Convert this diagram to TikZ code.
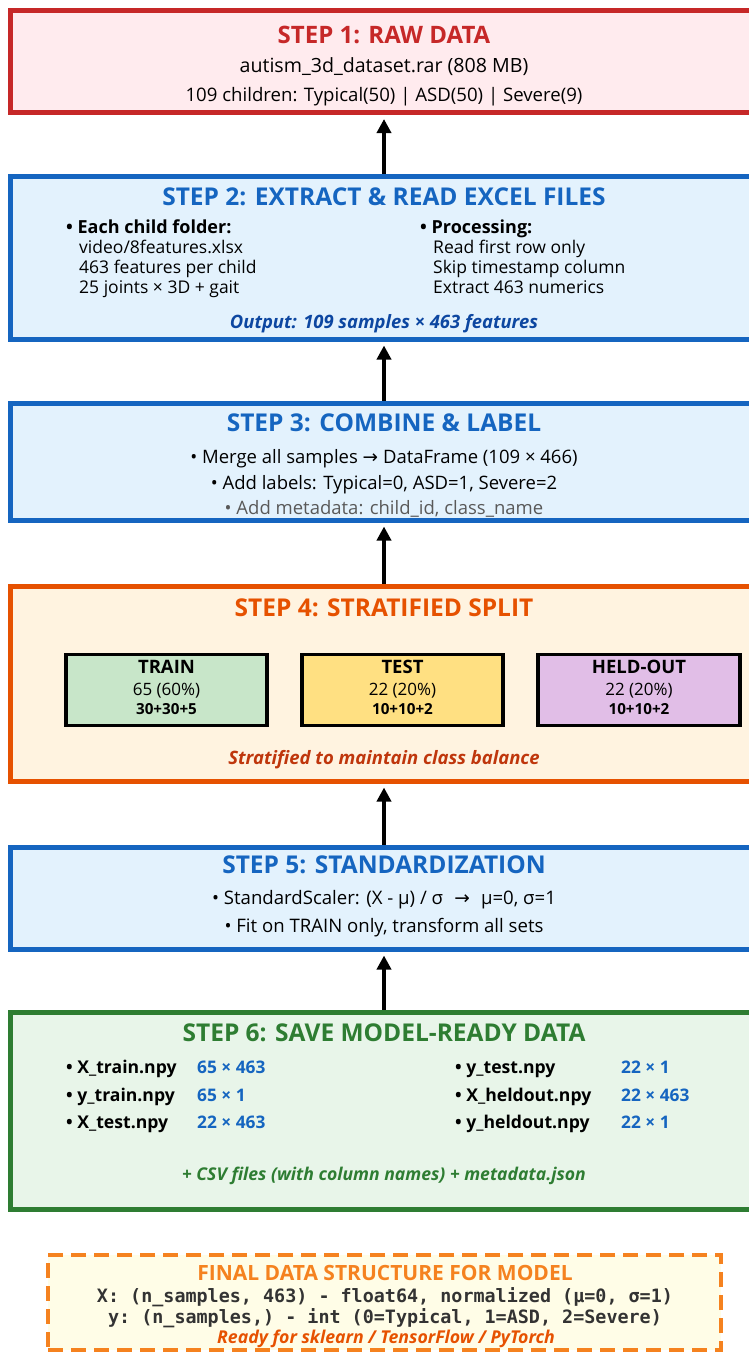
\documentclass[tikz,border=0pt]{standalone}
\usepackage{fontspec}
\setmainfont{Open Sans}
\setmonofont{DejaVu Sans Mono}
\newfontfamily\symfont{DejaVu Sans}
\usetikzlibrary{arrows.meta}
\definecolor{redln}{HTML}{C62828}
\definecolor{redbg}{HTML}{FFEBEE}
\definecolor{blueln}{HTML}{1565C0}
\definecolor{bluebg}{HTML}{E3F2FD}
\definecolor{bluedk}{HTML}{0D47A1}
\definecolor{orgln}{HTML}{E65100}
\definecolor{orgbg}{HTML}{FFF3E0}
\definecolor{orgdk}{HTML}{BF360C}
\definecolor{grnln}{HTML}{2E7D32}
\definecolor{grnbg}{HTML}{E8F5E9}
\definecolor{finln}{HTML}{F5821F}
\definecolor{finbg}{HTML}{FFFDE7}
\definecolor{trainbg}{HTML}{C8E6C9}
\definecolor{testbg}{HTML}{FFE082}
\definecolor{heldbg}{HTML}{E1BEE7}
\newcommand{\rarr}{{\symfont →}}

\begin{document}
\begin{tikzpicture}[x=1pt,y=-1pt,
  stage/.style={draw, line width=5pt, inner sep=0pt, minimum width=748pt},
  ttl/.style={font=\bfseries\fontsize{24.5}{28}\selectfont, anchor=base, inner sep=0pt},
  txt/.style={font=\fontsize{17.5}{20}\selectfont, anchor=base, inner sep=0pt},
  ltxt/.style={txt, anchor=base west},
  lbold/.style={ltxt, font=\bfseries\fontsize{17.6}{20}\selectfont},
  lval/.style={ltxt, text=blueln, font=\bfseries\fontsize{17.3}{20}\selectfont},
  split/.style={draw=black, line width=3.5pt, inner sep=0pt, minimum height=71pt},
  flow/.style={-{Triangle[length=14pt,width=14pt]}, line width=4pt, shorten >=4pt}
]
  \useasboundingbox (0,0) rectangle (749,1353);

% step 1: raw data
  \node[stage, draw=redln, fill=redbg, minimum height=102.5pt] (s1) at (384,61.25) {};
  \node[ttl, text=redln, font=\bfseries\fontsize{24}{28}\selectfont] (s1t) at (384,43) {STEP 1: RAW DATA};
  \node[txt, font=\fontsize{19.6}{20}\selectfont] (s1a) at (384,72) {autism\_3d\_dataset.rar (808 MB)};
  \node[txt, font=\fontsize{18.6}{20}\selectfont] (s1b) at (384,101) {109 children: Typical(50) | ASD(50) | Severe(9)};

% step 2: extract
  \node[stage, draw=blueln, fill=bluebg, minimum height=163pt] (s2) at (384,257.5) {};
  \node[ttl, text=blueln] (s2t) at (384,205) {STEP 2: EXTRACT \& READ EXCEL FILES};
  \node[lbold, font=\bfseries\fontsize{18}{20}\selectfont] (s2l) at (66,233) {• Each child folder:};
  \node[ltxt] (s2l1) at (79,253) {video/8features.xlsx};
  \node[ltxt] (s2l2) at (79,273) {463 features per child};
  \node[ltxt] (s2l3) at (79,293) {25 joints × 3D + gait};
  \node[lbold, font=\bfseries\fontsize{18}{20}\selectfont] (s2r) at (420,233) {• Processing:};
  \node[ltxt] (s2r1) at (433,253) {Read first row only};
  \node[ltxt] (s2r2) at (433,273) {Skip timestamp column};
  \node[ltxt] (s2r3) at (433,293) {Extract 463 numerics};
  \node[txt, text=bluedk, font=\bfseries\itshape\fontsize{18.4}{20}\selectfont] (s2o) at (384,328) {Output: 109 samples × 463 features};

% step 3: combine
  \node[stage, draw=blueln, fill=bluebg, minimum height=117pt] (s3) at (384,461.5) {};
  \node[ttl, text=blueln] (s3t) at (384,431) {STEP 3: COMBINE \& LABEL};
  \node[txt, font=\fontsize{18.5}{20}\selectfont] (s3a) at (384,463) {• Merge all samples \rarr{} DataFrame (109 × 466)};
  \node[txt, font=\fontsize{18.5}{20}\selectfont] (s3b) at (384,489) {• Add labels: Typical=0, ASD=1, Severe=2};
  \node[txt, text=black!65, font=\fontsize{18.5}{20}\selectfont] (s3c) at (384,514) {• Add metadata: child\_id, class\_name};

% step 4: split
  \node[stage, draw=orgln, fill=orgbg, minimum height=195pt] (s4) at (384,683.5) {};
  \node[ttl, text=orgln] (s4t) at (384,616) {STEP 4: STRATIFIED SPLIT};
  \node[split, fill=trainbg, minimum width=201pt] (train) at (166.5,690) {};
  \node[split, fill=testbg, minimum width=201pt] (test) at (402.5,690) {};
  \node[split, fill=heldbg, minimum width=202pt] (held) at (639,690) {};
  \node[txt, font=\bfseries\fontsize{18.5}{20}\selectfont] (traint) at (166.5,673) {TRAIN};
  \node[txt, font=\fontsize{17}{20}\selectfont] (trainn) at (166.5,695) {65 (60\%)};
  \node[txt, font=\bfseries\fontsize{15.2}{20}\selectfont] (trainc) at (166.5,714) {30+30+5};
  \node[txt, font=\bfseries\fontsize{18.5}{20}\selectfont] (testt) at (402.5,673) {TEST};
  \node[txt, font=\fontsize{17}{20}\selectfont] (testn) at (402.5,695) {22 (20\%)};
  \node[txt, font=\bfseries\fontsize{15.2}{20}\selectfont] (testc) at (402.5,714) {10+10+2};
  \node[txt, font=\bfseries\fontsize{18.5}{20}\selectfont] (heldt) at (639,673) {HELD-OUT};
  \node[txt, font=\fontsize{17}{20}\selectfont] (heldn) at (639,695) {22 (20\%)};
  \node[txt, font=\bfseries\fontsize{15.2}{20}\selectfont] (heldc) at (639,714) {10+10+2};
  \node[txt, text=orgdk, font=\bfseries\itshape\fontsize{18.5}{20}\selectfont] (s4n) at (384,764) {Stratified to maintain class balance};

% step 5: standardize
  \node[stage, draw=blueln, fill=bluebg, minimum height=102pt] (s5) at (384,898) {};
  \node[ttl, text=blueln] (s5t) at (384,873) {STEP 5: STANDARDIZATION};
  \node[txt, font=\fontsize{18.6}{20}\selectfont] (s5a) at (384,904) {• StandardScaler: (X - μ) / σ\hspace{0.6em}\rarr\hspace{0.6em}μ=0, σ=1};
  \node[txt, font=\fontsize{18.6}{20}\selectfont] (s5b) at (384,932) {• Fit on TRAIN only, transform all sets};

% step 6: save
  \node[stage, draw=grnln, fill=grnbg, minimum height=197pt] (s6) at (384,1110.5) {};
  \node[ttl, text=grnln] (s6t) at (384,1041) {STEP 6: SAVE MODEL-READY DATA};
  \node[lbold] (f1) at (66,1073) {• X\_train.npy};
  \node[lval] (v1) at (197,1073) {65 × 463};
  \node[lbold] (f2) at (66,1101) {• y\_train.npy};
  \node[lval] (v2) at (197,1101) {65 × 1};
  \node[lbold] (f3) at (66,1128) {• X\_test.npy};
  \node[lval] (v3) at (197,1128) {22 × 463};
  \node[lbold] (f4) at (455,1073) {• y\_test.npy};
  \node[lval] (v4) at (621,1073) {22 × 1};
  \node[lbold] (f5) at (455,1101) {• X\_heldout.npy};
  \node[lval] (v5) at (621,1101) {22 × 463};
  \node[lbold] (f6) at (455,1128) {• y\_heldout.npy};
  \node[lval] (v6) at (621,1128) {22 × 1};
  \node[txt, text=grnln, font=\bfseries\itshape\fontsize{17.6}{20}\selectfont] (s6n) at (384,1180) {+ CSV files (with column names) + metadata.json};

% final structure
  \node[draw=finln, fill=finbg, line width=4pt, dash pattern=on 15pt off 8pt, inner sep=0pt,
        minimum width=673pt, minimum height=95pt] (fin) at (384.5,1302.5) {};
  \node[txt, text=finln, font=\bfseries\fontsize{21}{24}\selectfont] (fint) at (385,1280) {FINAL DATA STRUCTURE FOR MODEL};
  \node[txt, text=black!80, font=\ttfamily\bfseries\fontsize{18.4}{20}\selectfont] (finx) at (385,1302) {X: (n\_samples, 463) - float64, normalized (μ=0, σ=1)};
  \node[txt, text=black!80, font=\ttfamily\bfseries\fontsize{18.4}{20}\selectfont] (finy) at (385,1323) {y: (n\_samples,) - int (0=Typical, 1=ASD, 2=Severe)};
  \node[txt, text=orgln, font=\bfseries\itshape\fontsize{17.7}{20}\selectfont] (finr) at (386,1343) {Ready for sklearn / TensorFlow / PyTorch};

% arrows
  \draw[flow] (s2.north) -- (s1.south);
  \draw[flow] (s3.north) -- (s2.south);
  \draw[flow] (s4.north) -- (s3.south);
  \draw[flow] (s5.north) -- (s4.south);
  \draw[flow] (s6.north) -- (s5.south);

\end{tikzpicture}
\end{document}
